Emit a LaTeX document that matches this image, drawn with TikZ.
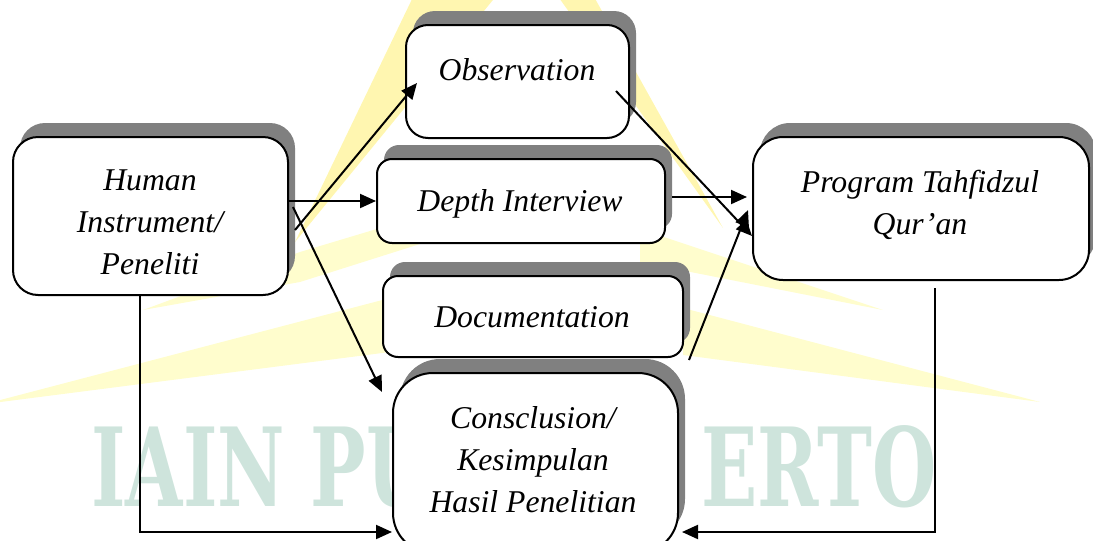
\documentclass[tikz,border=0pt]{standalone}
\usepackage{fontspec}
\usepackage{graphicx}
\setmainfont{Liberation Serif}
\newfontfamily\wmfont{DejaVu Serif}
\usetikzlibrary{shadows,arrows.meta}
\definecolor{legyellow}{RGB}{255,246,176}
\definecolor{wingyellow}{RGB}{255,253,205}
\definecolor{wmteal}{RGB}{206,228,220}
\definecolor{shadowgray}{RGB}{128,128,128}
\newlength\wmwd
\newlength\wmht

\begin{document}
% logo lettering is scaled so the full word spans 423pt x 40.5pt
\settowidth\wmwd{\wmfont\bfseries IAIN PURWOKERTO}%
\settoheight\wmht{\wmfont\bfseries IAIN PURWOKERTO}%
\pgfmathsetmacro\wmsx{423pt/\wmwd}%
\pgfmathsetmacro\wmsy{40.5pt/\wmht}%
\begin{tikzpicture}[x=0.5pt,y=-0.5pt,
  box/.style={draw=black, line width=1pt, fill=white, rounded corners=#1,
    inner sep=0pt,
    drop shadow={shadow xshift=3.5pt, shadow yshift=7pt, fill=shadowgray, opacity=1}},
  txt/.style={font=\fontsize{15.85}{21}\selectfont\itshape, align=center, inner sep=0pt},
  wm/.style={inner sep=0pt, text=wmteal},
  arr/.style={line width=1pt, -{Triangle[length=8pt,width=7pt]}}]

\useasboundingbox (0,0) rectangle (1093,541);
\clip (0,0) rectangle (1093,541);

% faint logo in the background
\fill[legyellow] (414,-5) -- (497,-5) -- (295,242) -- cycle;
\fill[legyellow] (557,-5) -- (593,-5) -- (723,228) -- cycle;
\fill[wingyellow] (143,310) -- (300,252) -- (420,216) -- (420,244) -- (300,282) -- cycle;
\fill[wingyellow] (390,298) -- (390,352) -- (-15,404) -- cycle;
\fill[wingyellow] (640,229) -- (883,310) -- (640,262) -- cycle;
\fill[wingyellow] (683,308) -- (1040,402) -- (683,355) -- cycle;

\node[wm, anchor=south west] (wmL) at (91,508)
  {\scalebox{\wmsx}[\wmsy]{\wmfont\bfseries IAIN PU}};
\node[wm, anchor=south east] (wmR) at (937,508)
  {\scalebox{\wmsx}[\wmsy]{\wmfont\bfseries ERTO}};

% boxes
\node[box=12.5pt, minimum width=137.5pt, minimum height=79pt] (hum) at (150.5,216) {};
\node[box=11pt, minimum width=111.5pt, minimum height=56.5pt] (obs) at (517.5,81.5) {};
\node[box=7.5pt, minimum width=144pt, minimum height=42pt] (dep) at (521,201) {};
\node[box=7.5pt, minimum width=150pt, minimum height=40.5pt] (doc) at (533,316.5) {};
\node[box=20pt, minimum width=142.5pt, minimum height=90pt] (con) at (535.5,463) {};
\node[box=15pt, minimum width=168pt, minimum height=71.5pt] (prog) at (921,208.5) {};

% labels
\node[txt] (humt) at (150,222.7) {Human\\Instrument/\\Peneliti};
\node[txt] (obst) at (517,69.3) {Observation};
\node[txt] (dept) at (520,203.6) {Depth Interview};
\node[txt] (doct) at (532,317.2) {Documentation};
\node[txt] (cont) at (533,460) {Consclusion/\\Kesimpulan\\Hasil Penelitian};
\node[txt] (progt) at (920,204.9) {Program Tahfidzul\\Qur’an};

% connector end points
\coordinate (hoS) at (295,230);
\coordinate (hoE) at (417,83);
\coordinate (hcS) at (293,207);
\coordinate (hcE) at (382,392);
\coordinate (opS) at (616,91);
\coordinate (opE) at (752,236);
\coordinate (dpS) at (672,197);
\coordinate (dpE) at (747,197);
\coordinate (cpS) at (689,360);
\coordinate (cpE) at (748,210);
\coordinate (hdS) at (140,295);
\coordinate (hdC) at (140,532);
\coordinate (hdE) at (392,532);
\coordinate (pdS) at (935,288);
\coordinate (pdC) at (935,532);
\coordinate (pdE) at (682,532);

% connectors
\draw[arr] (hoS) -- (hoE);
\draw[arr] (hum.east |- dep.west) -- (dep.west);
\draw[arr] (hcS) -- (hcE);
\draw[arr] (opS) -- (opE);
\draw[arr] (dpS) -- (dpE);
\draw[arr] (cpS) -- (cpE);
\draw[arr] (hdS) -- (hdC) -- (hdE);
\draw[arr] (pdS) -- (pdC) -- (pdE);
\end{tikzpicture}
\end{document}
